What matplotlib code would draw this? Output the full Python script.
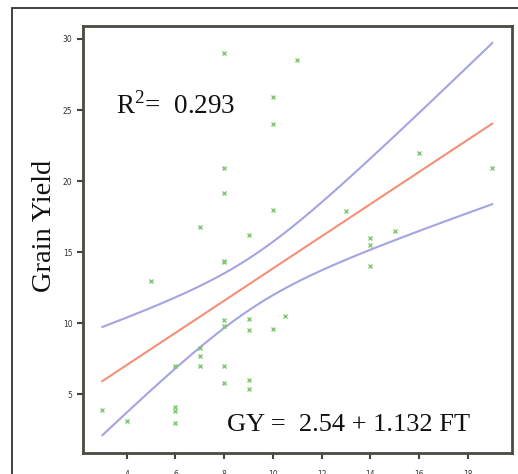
import numpy as np
import matplotlib
matplotlib.use("Agg")
import matplotlib.pyplot as plt
from matplotlib.patches import Rectangle

# values
ft = [3, 4, 5,
      6, 6, 6, 6,
      7, 7, 7, 7,
      8, 8, 8, 8, 8, 8, 8, 8, 8,
      9, 9, 9, 9, 9,
      10, 10, 10, 10,
      10.5, 11, 13,
      14, 14, 14,
      15, 16, 19]
gy = [3.9, 3.1, 13.0,
      4.1, 3.8, 3.0, 7.0,
      16.8, 8.3, 7.7, 7.0,
      29.0, 20.9, 19.2, 14.4, 14.3, 10.2, 9.8, 7.0, 5.8,
      16.2, 10.3, 9.5, 6.0, 5.4,
      25.9, 24.0, 18.0, 9.6,
      10.5, 28.5, 17.9,
      16.0, 15.5, 14.0,
      16.5, 22.0, 20.9]
intercept = 2.54
slope = 1.132
r2_text = "0.293"
y_ticks = [5, 10, 15, 20, 25, 30]
x_ticks = [4, 6, 8, 10, 12, 14, 16, 18]

plt.rcParams['mathtext.fontset'] = 'custom'
plt.rcParams['mathtext.rm'] = 'Liberation Serif'

fig = plt.figure(figsize=(5.18, 4.74), dpi=100)
ax = fig.add_axes([0.160, 0.044, 0.828, 0.902])

x = np.array(ft, dtype=float)
y = np.array(gy, dtype=float)

# fitted line and confidence band for the mean
xs = np.linspace(x.min(), x.max(), 200)
fit = intercept + slope * xs
n = len(x)
resid = y - (intercept + slope * x)
s = np.sqrt(np.sum(resid ** 2) / (n - 2))
sxx = np.sum((x - x.mean()) ** 2)
half = 1.8 * s * np.sqrt(1.0 / n + (xs - x.mean()) ** 2 / sxx)

ax.plot(xs, fit + half, color='#a4a4e2', lw=1.5)
ax.plot(xs, fit - half, color='#a4a4e2', lw=1.5)
ax.plot(xs, fit, color='#f49078', lw=1.5)
ax.plot(x, y, 'x', color='#80c870', ms=3.2, mew=1.0)

ax.set_xlim(2.2, 19.8)
ax.set_ylim(0.87, 30.94)
ax.set_xticks(x_ticks)
ax.set_yticks(y_ticks)
ax.tick_params(axis='both', direction='out', length=4, width=1.5,
               color='#444438', labelsize=5.5, labelcolor='#333')
# the x labels sit mostly below the crop, as in the source image
ax.tick_params(axis='x', pad=8)
for sp in ax.spines.values():
    sp.set_color('#4a4a40')
    sp.set_linewidth(2)

ax.text(0.078, 0.795, r"R$^{2}$=  " + r2_text, transform=ax.transAxes,
        fontsize=19.5, family='Liberation Serif', color='#111')
ax.text(0.337, 0.052, "GY =  %.2f + %.3f FT" % (intercept, slope),
        transform=ax.transAxes, fontsize=19, family='Liberation Serif',
        color='#111')

fig.text(0.085, 0.523, "Grain Yield", rotation=90, ha='center', va='center',
         fontsize=20.5, family='Liberation Serif', color='#111')

# outer frame of the cropped figure
fig.patches.append(Rectangle((12 / 518, -0.1), 1.2, 1 - 8 / 474 + 0.1,
                             transform=fig.transFigure, fill=False,
                             edgecolor='#333', lw=1.3))

fig.savefig("out.png", dpi=100)
